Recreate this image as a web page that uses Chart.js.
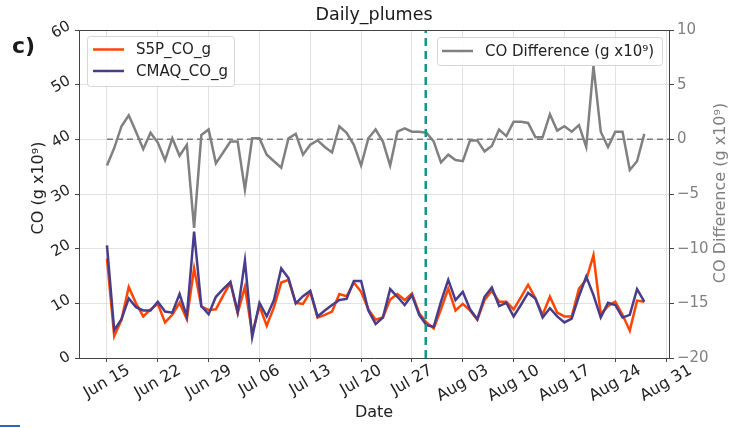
<!DOCTYPE html>
<html>
<head>
<meta charset="utf-8">
<script src="https://cdn.jsdelivr.net/npm/chart.js@4.4.1/dist/chart.umd.min.js"></script>
<style>
html,body{margin:0;padding:0;background:#fff}
#wrap{position:relative;width:736px;height:428px}
.edge-mark{position:absolute;left:0;top:425px;width:20px;height:2px;background:#2f63c0}
</style>
</head>
<body>
<div id="wrap">
<canvas id="plumeChart" width="736" height="428"></canvas>
<div class="edge-mark"></div>
</div>

<script>

// ===============================
// DAILY PLUMES DATA (one value per day from Jun 15)
// ===============================

const tickLabels = ["Jun 15","Jun 22","Jun 29","Jul 06","Jul 13","Jul 20","Jul 27","Aug 03","Aug 10","Aug 17","Aug 24","Aug 31"]
const tickDays = [0,7,14,21,28,35,42,49,56,63,70,77]

const s5pCO = [
18.2,4.0,7.0,13.0,10.0,7.6,8.9,9.9,6.5,7.9,
10.1,7.1,16.4,9.4,8.8,8.9,11.4,13.8,8.2,13.0,
4.5,9.5,5.9,9.3,13.8,14.3,10.1,9.9,12.1,7.4,
7.9,8.5,11.7,11.3,13.8,12.1,8.9,7.0,7.4,10.7,
11.7,10.6,11.8,8.2,6.5,5.4,8.9,12.7,8.7,9.9,
8.7,7.0,10.6,12.3,10.3,10.3,8.9,11.1,13.4,10.9,
7.9,11.2,8.3,7.6,7.6,12.7,14.3,18.8,8.0,9.5,
10.3,7.9,5.0,10.5,10.3
]

const cmaqCO = [
20.6,5.1,7.1,10.9,9.3,8.7,8.7,10.3,8.5,8.3,
11.7,7.6,23.1,9.5,8.0,11.2,12.6,13.9,8.4,17.8,
3.8,10.1,7.6,10.6,16.4,14.6,10.0,11.3,12.3,7.6,
8.7,9.7,10.6,10.8,14.1,14.1,8.7,6.2,7.4,12.6,
11.2,9.7,11.5,7.9,6.0,5.7,10.3,14.3,10.6,12.1,
8.9,7.1,11.2,12.9,9.5,10.1,7.6,9.7,11.9,10.9,
7.4,9.1,7.6,6.5,7.2,11.3,14.9,11.5,7.4,10.1,
9.7,7.4,7.9,12.6,10.3
]

const coDiff = [
-2.4,-0.8,1.2,2.2,0.7,-0.9,0.6,-0.3,-1.9,0.1,
-1.5,-0.5,-8.1,0.4,0.9,-2.2,-1.2,-0.2,-0.2,-4.6,
0.1,0.1,-1.4,-2.0,-2.6,0.1,0.5,-1.4,-0.5,-0.1,
-0.7,-1.2,1.2,0.6,-0.5,-2.4,0.1,0.9,-0.2,-2.4,
0.7,1.0,0.7,0.7,0.6,-0.2,-2.1,-1.4,-1.9,-2.0,
-0.1,-0.1,-1.1,-0.6,0.9,0.3,1.6,1.6,1.5,0.2,
0.2,2.3,0.8,1.2,0.7,1.3,-0.7,6.7,0.7,-0.7,
0.7,0.7,-2.8,-2.0,0.5
]

// reference zero line for the difference, and the marked day
const zeroLineDays = [0,80]
const eventDay = 43.9

const toPoints = arr => arr.map((v,i)=>({x:i,y:v}))

const FONT = "'DejaVu Sans', 'Liberation Sans', sans-serif"
const GREY = "#808080"

// ===============================
// TEXT, LEGENDS AND FRAME
// ===============================

function drawRotated(ctx, text, cx, cy, angle){
ctx.save()
ctx.translate(cx, cy)
ctx.rotate(angle)
ctx.textAlign = "center"
ctx.textBaseline = "middle"
ctx.fillText(text, 0, 0)
ctx.restore()
}

function drawLegendBox(ctx, x, y, w, h){
ctx.beginPath()
ctx.roundRect(x+0.5, y+0.5, w, h, 3)
ctx.fillStyle = "rgba(255,255,255,0.85)"
ctx.fill()
ctx.strokeStyle = "#d6d6d6"
ctx.lineWidth = 1
ctx.stroke()
}

function drawLegendEntry(ctx, color, label, x, y){
ctx.strokeStyle = color
ctx.lineWidth = 2.5
ctx.beginPath()
ctx.moveTo(x, y)
ctx.lineTo(x+31, y)
ctx.stroke()
ctx.fillStyle = "#222"
ctx.font = "15px " + FONT
ctx.textAlign = "left"
ctx.textBaseline = "middle"
ctx.fillText(label, x+43, y+1)
}

const plotText = {
id:"plotText",
afterDraw(chart){

const ctx = chart.ctx
const area = chart.chartArea
const xs = chart.scales.x
const ys = chart.scales.y
const rot = -Math.PI/6

ctx.save()

// top spine
ctx.strokeStyle = "#444"
ctx.lineWidth = 1
ctx.beginPath()
ctx.moveTo(area.left, area.top+0.5)
ctx.lineTo(area.right, area.top+0.5)
ctx.stroke()

// title and panel letter
ctx.fillStyle = "#1a1a1a"
ctx.font = "17.5px " + FONT
ctx.textAlign = "center"
ctx.textBaseline = "middle"
ctx.fillText("Daily_plumes", (area.left+area.right)/2, 15)

ctx.font = "bold 22px " + FONT
ctx.textAlign = "left"
ctx.fillText("c)", 12, 47)

// x tick labels, rotated 30 degrees and centred under each tick
ctx.font = "16px " + FONT
ctx.fillStyle = "#222"
tickDays.forEach((d,i)=>{
const w = ctx.measureText(tickLabels[i]).width
const H = w*0.5 + 12*0.866
drawRotated(ctx, tickLabels[i], xs.getPixelForValue(d), 364 + H/2, rot)
})

// left tick labels, rotated as well
ctx.font = "15px " + FONT
ys.ticks.forEach(t=>{
const label = String(t.value)
const w = ctx.measureText(label).width
const W = w*0.866 + 11*0.5
drawRotated(ctx, label, 72 - W/2, ys.getPixelForValue(t.value), rot)
})

// axis titles
ctx.font = "16px " + FONT
ctx.fillStyle = "#222"
drawRotated(ctx, "Date", (area.left+area.right)/2, 413, 0)
drawRotated(ctx, "CO (g x10\u2079)", 39, 188, -Math.PI/2)
ctx.fillStyle = GREY
drawRotated(ctx, "CO Difference (g x10\u2079)", 721, 193, -Math.PI/2)

// legends
drawLegendBox(ctx, 87, 36, 147, 50)
drawLegendEntry(ctx, "#ff4500", "S5P_CO_g", 93, 49.5)
drawLegendEntry(ctx, "#483d8b", "CMAQ_CO_g", 93, 71)

drawLegendBox(ctx, 437, 37, 225, 28)
drawLegendEntry(ctx, GREY, "CO Difference (g x10\u2079)", 442, 51)

ctx.restore()

}
}

// ===============================
// CHART
// ===============================

const ctx = document.getElementById("plumeChart")

new Chart(ctx,{

type:"line",

data:{
datasets:[
{
label:"event",
data:[{x:eventDay,y:-20},{x:eventDay,y:10}],
yAxisID:"y2",
borderColor:"#15958a",
borderWidth:2.5,
borderDash:[8,5],
pointRadius:0
},
{
label:"CO Difference (g x10\u2079)",
data:toPoints(coDiff),
yAxisID:"y2",
borderColor:GREY,
borderWidth:2.5,
pointRadius:0,
tension:0
},
{
label:"zero",
data:zeroLineDays.map(d=>({x:d,y:0})),
yAxisID:"y2",
borderColor:"#7a7a7a",
borderWidth:1.5,
borderDash:[6,4],
pointRadius:0
},
{
label:"CMAQ_CO_g",
data:toPoints(cmaqCO),
yAxisID:"y",
borderColor:"#483d8b",
borderWidth:2.5,
pointRadius:0,
tension:0
},
{
label:"S5P_CO_g",
data:toPoints(s5pCO),
yAxisID:"y",
borderColor:"#ff4500",
borderWidth:2.5,
pointRadius:0,
tension:0
}
]
},

options:{
responsive:true,
maintainAspectRatio:false,
animation:false,
devicePixelRatio:1,

layout:{padding:{top:30,left:0,right:0,bottom:0}},

plugins:{
legend:{display:false},
title:{display:false},
tooltip:{enabled:false}
},

scales:{

x:{
type:"linear",
position:"bottom",
min:-3.85,
max:77.4,
afterBuildTicks:scale=>{ scale.ticks = tickDays.map(v=>({value:v})) },
afterFit:scale=>{ scale.height = 70 },
grid:{color:"#e2e2e2",tickColor:"#444",tickLength:4},
border:{color:"#444",width:1},
ticks:{color:"rgba(0,0,0,0)",maxRotation:0,autoSkip:false}
},

y:{
position:"left",
min:0,
max:60,
afterFit:scale=>{ scale.width = 79 },
grid:{color:"#e2e2e2",tickColor:"#444",tickLength:4},
border:{color:"#444",width:1},
ticks:{stepSize:10,color:"rgba(0,0,0,0)"}
},

y2:{
position:"right",
min:-20,
max:10,
afterFit:scale=>{ scale.width = 67 },
grid:{drawOnChartArea:false,tickColor:"#444",tickLength:5},
border:{color:"#444",width:1},
ticks:{
stepSize:5,
color:GREY,
padding:3,
font:{family:FONT,size:15},
callback:v=>String(v).replace("-","\u2212")
}
}

}

},

plugins:[plotText]

})

</script>
</body>
</html>
